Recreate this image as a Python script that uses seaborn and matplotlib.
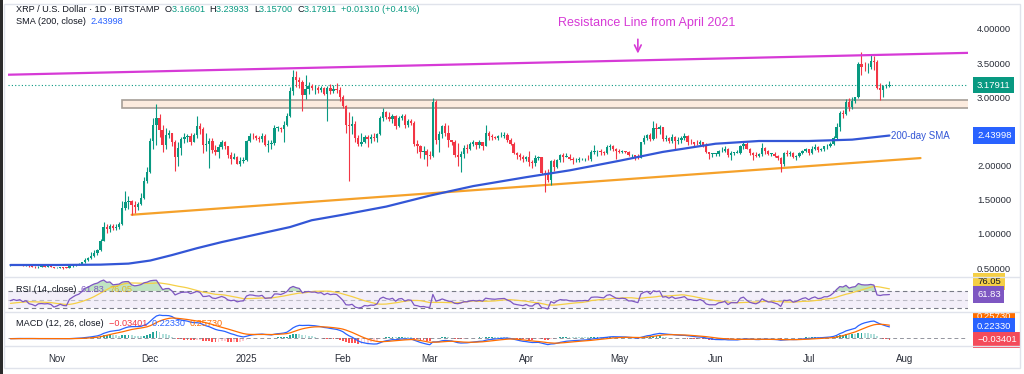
import matplotlib

matplotlib.use('Agg')

import matplotlib.pyplot as plt
import matplotlib.dates as mdates
from matplotlib.patches import Rectangle
from matplotlib.transforms import Bbox
import numpy as np
import pandas as pd
import seaborn as sns


# daily XRP / USD candles (Bitstamp), 2024-10-17 .. 2025-07-27
first_day = '2024-10-17'
first_open = 0.540

close = [
    # Oct 17-31
    0.546, 0.552, 0.547, 0.551, 0.540, 0.545, 0.527, 0.522, 0.512, 0.521, 0.522, 0.520, 0.521, 0.517, 0.500,
    # Nov
    0.504, 0.510, 0.503, 0.501, 0.528, 0.540, 0.552, 0.560, 0.582, 0.622, 0.640, 0.681, 0.727, 0.763, 0.901,
    1.100, 1.070, 1.120, 1.080, 1.105, 1.140, 1.380, 1.470, 1.480, 1.420, 1.400, 1.440, 1.520, 1.770, 1.910,
    # Dec
    2.360, 2.600, 2.700, 2.520, 2.300, 2.450, 2.470, 2.350, 2.120, 2.260, 2.390, 2.420, 2.430, 2.350, 2.450,
    2.580, 2.530, 2.300, 2.310, 2.360, 2.230, 2.200, 2.270, 2.340, 2.280, 2.150, 2.100, 2.130, 2.030, 2.070, 2.080,
    # Jan
    2.360, 2.440, 2.430, 2.400, 2.390, 2.430, 2.300, 2.320, 2.330, 2.550, 2.550, 2.530, 2.600, 2.720, 3.090,
    3.300, 3.250, 3.220, 3.030, 3.120, 3.160, 3.130, 3.140, 3.100, 3.130, 3.050, 3.140, 3.090, 3.120, 3.110, 3.010,
    # Feb
    2.870, 2.600, 2.580, 2.610, 2.400, 2.320, 2.340, 2.420, 2.390, 2.420, 2.410, 2.460, 2.700, 2.780,
    2.710, 2.680, 2.730, 2.580, 2.700, 2.720, 2.590, 2.650, 2.630, 2.320, 2.280, 2.200, 2.210, 2.150,
    # Mar
    2.140, 2.930, 2.370, 2.460, 2.580, 2.480, 2.370, 2.350, 2.160, 2.120, 2.170, 2.260, 2.250, 2.310, 2.340,
    2.300, 2.340, 2.290, 2.470, 2.440, 2.420, 2.410, 2.430, 2.440, 2.450, 2.380, 2.320, 2.190, 2.150, 2.120, 2.090,
    # Apr
    2.130, 2.050, 2.040, 2.110, 2.120, 1.890, 1.860, 1.790, 2.070, 1.980, 2.080, 2.150, 2.130, 2.130, 2.090,
    2.080, 2.080, 2.090, 2.090, 2.100, 2.090, 2.200, 2.210, 2.210, 2.200, 2.190, 2.270, 2.290, 2.250, 2.210,
    # May
    2.200, 2.210, 2.200, 2.150, 2.150, 2.130, 2.110, 2.340, 2.410, 2.450, 2.390, 2.550, 2.530, 2.560, 2.390,
    2.410, 2.360, 2.420, 2.360, 2.380, 2.400, 2.430, 2.350, 2.340, 2.320, 2.310, 2.340, 2.300, 2.200, 2.170, 2.170,
    # Jun
    2.170, 2.210, 2.220, 2.240, 2.150, 2.190, 2.190, 2.190, 2.290, 2.320, 2.250, 2.190, 2.160, 2.140, 2.170,
    2.260, 2.210, 2.170, 2.170, 2.140, 2.110, 2.030, 2.180, 2.170, 2.190, 2.120, 2.140, 2.180, 2.220, 2.240,
    # Jul 1-27
    2.190, 2.240, 2.270, 2.230, 2.240, 2.280, 2.280, 2.320, 2.400, 2.560, 2.770, 2.760, 2.930, 2.860,
    2.950, 3.000, 3.490, 3.450, 3.440, 3.450, 3.530, 3.510, 3.140, 3.110, 3.160, 3.16601, 3.17911,
]

high = [
    0.556, 0.560, 0.556, 0.560, 0.565, 0.550, 0.548, 0.535, 0.530, 0.527, 0.528, 0.530, 0.535, 0.525, 0.520,
    0.515, 0.516, 0.512, 0.512, 0.535, 0.555, 0.560, 0.570, 0.590, 0.640, 0.660, 0.730, 0.760, 0.780, 0.920,
    1.180, 1.150, 1.150, 1.150, 1.140, 1.170, 1.480, 1.630, 1.550, 1.500, 1.480, 1.470, 1.600, 1.840, 1.980,
    2.400, 2.700, 2.900, 2.760, 2.600, 2.550, 2.520, 2.480, 2.380, 2.340, 2.420, 2.470, 2.460, 2.470, 2.480,
    2.720, 2.630, 2.560, 2.470, 2.400, 2.400, 2.300, 2.320, 2.370, 2.360, 2.290, 2.200, 2.180, 2.140, 2.130, 2.130,
    2.370, 2.480, 2.470, 2.450, 2.430, 2.470, 2.460, 2.380, 2.370, 2.600, 2.580, 2.570, 2.650, 2.770, 3.150,
    3.400, 3.390, 3.300, 3.250, 3.330, 3.220, 3.200, 3.180, 3.170, 3.160, 3.150, 3.160, 3.200, 3.180, 3.210, 3.150,
    3.040, 2.890, 2.780, 2.720, 2.660, 2.450, 2.480, 2.450, 2.450, 2.460, 2.470, 2.480, 2.720, 2.840,
    2.800, 2.790, 2.760, 2.740, 2.720, 2.760, 2.760, 2.680, 2.680, 2.650, 2.370, 2.300, 2.280, 2.240,
    2.220, 2.990, 2.960, 2.500, 2.600, 2.620, 2.600, 2.380, 2.370, 2.330, 2.220, 2.300, 2.320, 2.350, 2.370,
    2.350, 2.380, 2.340, 2.590, 2.500, 2.460, 2.440, 2.450, 2.490, 2.490, 2.470, 2.400, 2.340, 2.200, 2.190, 2.150,
    2.140, 2.210, 2.080, 2.150, 2.140, 2.130, 1.940, 1.950, 2.080, 2.090, 2.100, 2.170, 2.180, 2.190, 2.170,
    2.120, 2.110, 2.120, 2.110, 2.110, 2.160, 2.230, 2.300, 2.230, 2.250, 2.210, 2.300, 2.310, 2.300, 2.260,
    2.240, 2.230, 2.220, 2.210, 2.170, 2.160, 2.170, 2.350, 2.450, 2.460, 2.480, 2.650, 2.620, 2.600, 2.570,
    2.450, 2.420, 2.460, 2.440, 2.420, 2.440, 2.480, 2.450, 2.390, 2.350, 2.370, 2.370, 2.340, 2.330, 2.200, 2.190,
    2.190, 2.230, 2.270, 2.280, 2.260, 2.210, 2.200, 2.230, 2.300, 2.340, 2.340, 2.260, 2.200, 2.200, 2.190,
    2.330, 2.270, 2.230, 2.190, 2.200, 2.150, 2.120, 2.200, 2.230, 2.210, 2.200, 2.160, 2.200, 2.230, 2.260,
    2.250, 2.280, 2.320, 2.280, 2.260, 2.290, 2.320, 2.350, 2.440, 2.620, 2.800, 2.810, 2.970, 2.990,
    3.000, 3.010, 3.520, 3.660, 3.520, 3.500, 3.640, 3.600, 3.550, 3.210, 3.180, 3.190, 3.23933,
]

low = [
    0.535, 0.540, 0.543, 0.540, 0.535, 0.530, 0.515, 0.515, 0.495, 0.508, 0.515, 0.510, 0.515, 0.510, 0.495,
    0.494, 0.500, 0.490, 0.495, 0.498, 0.520, 0.535, 0.548, 0.555, 0.578, 0.600, 0.630, 0.665, 0.690, 0.750,
    0.890, 1.020, 1.030, 1.050, 1.060, 1.070, 1.130, 1.350, 1.360, 1.280, 1.300, 1.350, 1.430, 1.510, 1.750,
    1.890, 2.240, 2.300, 2.420, 2.200, 2.250, 2.400, 2.280, 1.920, 2.000, 2.150, 2.330, 2.350, 2.300, 2.340,
    2.410, 2.460, 2.180, 2.220, 1.960, 2.180, 2.150, 2.110, 2.240, 2.240, 2.110, 2.030, 2.090, 2.020, 2.000, 2.040,
    2.070, 2.340, 2.390, 2.370, 2.350, 2.340, 2.280, 2.200, 2.240, 2.300, 2.500, 2.490, 2.350, 2.580, 2.710,
    3.040, 3.150, 3.140, 2.800, 2.980, 3.050, 3.100, 3.050, 3.060, 3.080, 3.040, 2.650, 3.050, 3.060, 3.070, 2.950,
    2.840, 2.480, 1.770, 2.460, 2.340, 2.280, 2.290, 2.330, 2.270, 2.330, 2.360, 2.340, 2.450, 2.660,
    2.680, 2.650, 2.620, 2.530, 2.560, 2.670, 2.550, 2.570, 2.600, 2.280, 2.180, 2.110, 2.100, 1.990,
    2.100, 2.120, 2.310, 2.200, 2.400, 2.430, 2.270, 2.300, 2.120, 2.000, 1.900, 2.110, 2.180, 2.230, 2.290,
    2.250, 2.260, 2.230, 2.280, 2.380, 2.380, 2.390, 2.380, 2.420, 2.400, 2.350, 2.300, 2.170, 2.090, 2.080, 2.050,
    2.070, 1.990, 1.960, 1.990, 2.080, 1.870, 1.610, 1.760, 1.720, 1.920, 1.970, 2.050, 2.050, 2.120, 2.080,
    2.030, 2.050, 2.050, 2.080, 2.060, 2.080, 2.070, 2.170, 2.140, 2.160, 2.160, 2.170, 2.230, 2.220, 2.100,
    2.180, 2.180, 2.180, 2.140, 2.110, 2.080, 2.100, 2.110, 2.310, 2.370, 2.360, 2.380, 2.400, 2.460, 2.360,
    2.360, 2.330, 2.330, 2.240, 2.320, 2.330, 2.380, 2.300, 2.320, 2.280, 2.300, 2.280, 2.270, 2.180, 2.100, 2.130,
    2.140, 2.140, 2.200, 2.200, 2.130, 2.080, 2.160, 2.180, 2.170, 2.250, 2.240, 2.160, 2.080, 2.120, 2.130,
    2.140, 2.170, 2.150, 2.140, 2.120, 2.080, 1.910, 2.000, 2.140, 2.140, 2.110, 2.080, 2.130, 2.170, 2.200,
    2.160, 2.170, 2.230, 2.200, 2.210, 2.220, 2.240, 2.270, 2.300, 2.390, 2.500, 2.700, 2.740, 2.800,
    2.830, 2.920, 2.990, 3.330, 3.390, 3.360, 3.420, 3.400, 3.120, 2.960, 3.010, 3.130, 3.15700,
]

# closes before the first visible candle, only used to warm up RSI / MACD
warmup_close = [
    0.585, 0.588, 0.590, 0.587, 0.590, 0.584, 0.590, 0.596, 0.587, 0.594, 0.614, 0.630, 0.640, 0.610, 0.590,
    0.540, 0.523, 0.535, 0.536, 0.538, 0.532, 0.534, 0.533, 0.525, 0.535, 0.541, 0.536, 0.551, 0.538, 0.540,
]

# 200-day SMA
sma_dates = [
    '2024-10-17', '2024-11-01', '2024-11-15', '2024-11-24', '2024-12-01', '2024-12-08', '2024-12-16',
    '2024-12-24', '2025-01-01', '2025-01-08', '2025-01-15', '2025-01-22', '2025-02-01', '2025-02-15',
    '2025-03-01', '2025-03-15', '2025-04-01', '2025-04-15', '2025-05-01', '2025-05-15', '2025-06-01',
    '2025-06-15', '2025-07-01', '2025-07-15', '2025-07-27',
]
sma_values = [
    0.545, 0.545, 0.550, 0.565, 0.610, 0.690, 0.790,
    0.880, 0.960, 1.030, 1.100, 1.200, 1.280, 1.400,
    1.560, 1.700, 1.830, 1.930, 2.070, 2.200, 2.320,
    2.360, 2.360, 2.380, 2.440,
]

resistance_pts = [('2024-10-16', 3.33), ('2025-08-21', 3.65)]
support_pts = [('2024-11-25', 1.28), ('2025-08-06', 2.11)]
zone_start = '2024-11-22'
zone_low = 2.85
zone_high = 2.96

price_ticks = [0.5, 1.0, 1.5, 2.0, 2.5, 3.0, 3.5, 4.0]
# 2.50000 sits under the SMA value tag in the original
price_tick_labels = ['0.50000', '1.00000', '1.50000', '2.00000', '', '3.00000', '3.50000', '4.00000']

month_ticks = [
    '2024-11-01', '2024-12-01', '2025-01-01', '2025-02-01', '2025-03-01',
    '2025-04-01', '2025-05-01', '2025-06-01', '2025-07-01', '2025-08-01',
]
month_labels = ['Nov', 'Dec', '2025', 'Feb', 'Mar', 'Apr', 'May', 'Jun', 'Jul', 'Aug']

header_parts = [
    ('XRP / U.S. Dollar · 1D · BITSTAMP  ', 'dark'),
    ('O', 'dark'), ('3.16601  ', 'up'),
    ('H', 'dark'), ('3.23933  ', 'up'),
    ('L', 'dark'), ('3.15700  ', 'up'),
    ('C', 'dark'), ('3.17911  ', 'up'),
    ('+0.01310 (+0.41%)', 'up'),
]

UP = '#089981'
DOWN = '#f23645'
DARK = '#131722'
MAGENTA = '#d63ad6'
ORANGE = '#f5a12a'
SMA_BLUE = '#3356d6'
TAG_BLUE = '#2962ff'
RSI_PURPLE = '#7e57c2'
RSI_YELLOW = '#f5cf45'
SEP = '#e0e3eb'

sns.set_theme(style='white')
plt.rcParams['font.family'] = ['Liberation Sans', 'DejaVu Sans']

W, H = 1024, 374

fig = plt.figure(
    figsize=(W / 100, H / 100),
    dpi=100,
)


def pane(top, bottom):

    ax = fig.add_axes(
        [8 / W, 1 - bottom / H, 960 / W, (bottom - top) / H],
    )

    for s in ax.spines.values():
        s.set_visible(False)

    ax.set_facecolor('white')

    return ax


ax = pane(5, 277)
ax_rsi = pane(277, 312)
ax_macd = pane(312, 346)

dates = pd.date_range(first_day, periods=len(close), freq='D')
x = mdates.date2num(dates)

c = np.array(close)
h = np.array(high)
l = np.array(low)
o = np.concatenate([[first_open], c[:-1]])

# indicators
all_close = pd.Series(warmup_close + close)
delta = all_close.diff()
gain = delta.clip(lower=0).ewm(alpha=1 / 14, adjust=False).mean()
loss = (-delta.clip(upper=0)).ewm(alpha=1 / 14, adjust=False).mean()
rsi_all = 100 - 100 / (1 + gain / loss)
rsi_ma_all = rsi_all.rolling(14).mean()
macd_all = (
    all_close.ewm(span=12, adjust=False).mean()
    - all_close.ewm(span=26, adjust=False).mean()
)
signal_all = macd_all.ewm(span=9, adjust=False).mean()

n = len(close)
rsi = rsi_all.iloc[-n:].to_numpy()
rsi_ma = rsi_ma_all.iloc[-n:].to_numpy()
macd = macd_all.iloc[-n:].to_numpy()
signal = signal_all.iloc[-n:].to_numpy()
hist_full = (macd_all - signal_all).to_numpy()
hist = hist_full[-n:]
hist_prev = hist_full[-n - 1:-1]

x_left = mdates.date2num(pd.Timestamp('2024-10-16 05:00'))
x_right = mdates.date2num(pd.Timestamp('2025-08-21 07:00'))

# ---- price pane ----
ax.add_patch(
    Rectangle(
        (mdates.date2num(pd.Timestamp(zone_start)), zone_low),
        x_right - mdates.date2num(pd.Timestamp(zone_start)) + 10,
        zone_high - zone_low,
        facecolor='#fcebde',
        edgecolor='#a69e97',
        linewidth=1.2,
        zorder=1,
    )
)

ax.axhline(
    c[-1],
    color=UP,
    linestyle=(0, (1, 2)),
    linewidth=0.8,
    zorder=1,
)

colors = np.where(c >= o, UP, DOWN)

ax.vlines(
    x,
    l,
    h,
    colors=colors,
    linewidth=0.8,
    zorder=3,
)

ax.bar(
    x,
    np.maximum(np.abs(c - o), 0.008),
    bottom=np.minimum(o, c),
    width=0.75,
    color=colors,
    linewidth=0,
    zorder=4,
)

sma_x = mdates.date2num(pd.to_datetime(sma_dates))

sns.lineplot(
    x=sma_x,
    y=sma_values,
    ax=ax,
    color=SMA_BLUE,
    linewidth=1.6,
    zorder=5,
)

ax.text(
    sma_x[-1] + 0.4,
    sma_values[-1],
    '200-day SMA',
    color=SMA_BLUE,
    fontsize=7,
    va='center',
    ha='left',
)

(rx1, ry1), (rx2, ry2) = resistance_pts
ax.axline(
    (mdates.date2num(pd.Timestamp(rx1)), ry1),
    (mdates.date2num(pd.Timestamp(rx2)), ry2),
    color=MAGENTA,
    linewidth=1.6,
    zorder=6,
)

(sx1, sy1), (sx2, sy2) = support_pts
ax.plot(
    mdates.date2num(pd.to_datetime([sx1, sx2])),
    [sy1, sy2],
    color=ORANGE,
    linewidth=1.6,
    zorder=2,
)

arrow_x = mdates.date2num(pd.Timestamp('2025-05-07'))

ax.annotate(
    '',
    xy=(arrow_x, 3.60),
    xytext=(arrow_x, 3.89),
    arrowprops=dict(
        arrowstyle='->',
        color=MAGENTA,
        linewidth=1.2,
        mutation_scale=12,
    ),
)

ax.text(
    mdates.date2num(pd.Timestamp('2025-05-10')),
    4.085,
    'Resistance Line from April 2021',
    color=MAGENTA,
    fontsize=9,
    ha='center',
    va='center',
)

ax.set_xlim(x_left, x_right)
ax.set_ylim(0.369, 4.351)
ax.yaxis.tick_right()
ax.set_yticks(price_ticks)
ax.set_yticklabels(price_tick_labels)
ax.tick_params(axis='y', length=0, pad=6.5, labelsize=6.8, labelcolor='#2a2e39')
ax.tick_params(axis='x', length=0, labelbottom=False)
ax.set_xlabel('')
ax.set_ylabel('')

# ---- RSI pane ----
ax_rsi.axhspan(30, 70, color=RSI_PURPLE, alpha=0.09, linewidth=0)

for lvl, a in [(70, 1.0), (50, 0.45), (30, 1.0)]:
    ax_rsi.axhline(
        lvl,
        color='#787b86',
        linestyle=(0, (4, 3)),
        linewidth=0.8,
        alpha=a,
    )

ax_rsi.fill_between(
    x,
    rsi,
    70,
    where=rsi > 70,
    interpolate=True,
    color='#4caf50',
    alpha=0.35,
    linewidth=0,
)

sns.lineplot(x=x, y=rsi_ma, ax=ax_rsi, color=RSI_YELLOW, linewidth=0.9)
sns.lineplot(x=x, y=rsi, ax=ax_rsi, color=RSI_PURPLE, linewidth=0.9)

ax_rsi.set_xlim(x_left, x_right)
ax_rsi.set_ylim(21.4, 102.4)
ax_rsi.set_yticks([])
ax_rsi.tick_params(axis='x', length=0, labelbottom=False)
ax_rsi.set_xlabel('')
ax_rsi.set_ylabel('')

# ---- MACD pane ----
hist_colors = np.where(
    hist >= 0,
    np.where(hist >= hist_prev, '#26a69a', '#b2dfdb'),
    np.where(hist < hist_prev, '#ff5252', '#ffcdd2'),
)

ax_macd.axhline(0, color='#787b86', linestyle=(0, (4, 3)), linewidth=0.7, alpha=0.8)

ax_macd.bar(
    x,
    hist,
    width=0.6,
    color=hist_colors,
    linewidth=0,
)

sns.lineplot(x=x, y=macd, ax=ax_macd, color=TAG_BLUE, linewidth=0.9)
sns.lineplot(x=x, y=signal, ax=ax_macd, color='#ff6d00', linewidth=0.9)

peak = macd.max()
ax_macd.set_xlim(x_left, x_right)
ax_macd.set_ylim(-0.345 * peak, 1.134 * peak)
ax_macd.set_yticks([])
ax_macd.set_xticks(mdates.date2num(pd.to_datetime(month_ticks)))
ax_macd.set_xticklabels(month_labels)
ax_macd.tick_params(axis='x', length=0, pad=5.5, labelsize=7, labelcolor='#2a2e39')
ax_macd.set_xlabel('')
ax_macd.set_ylabel('')


# ---- right-hand value tags ----
def tag(axis, y, s, fc, tc='white', dy=0, clip_top=None):

    t = axis.annotate(
        s,
        xy=(1, y),
        xycoords=('axes fraction', 'data'),
        xytext=(6.5, dy),
        textcoords='offset points',
        ha='left',
        va='center',
        fontsize=6.8,
        color=tc,
        bbox=dict(boxstyle='square,pad=0.4', facecolor=fc, edgecolor='none'),
        annotation_clip=False,
        zorder=10,
    )

    if clip_top is not None:
        t.set_clip_on(True)
        t.set_clip_box(Bbox.from_extents(900, 0, W, H - clip_top))

    return t


tag(ax, c[-1], '3.17911', UP)
tag(ax, sma_values[-1], '2.43998', TAG_BLUE)
tag(ax_rsi, 76.05, '76.05', RSI_YELLOW, tc=DARK, dy=5)
tag(ax_rsi, 61.83, '61.83', RSI_PURPLE)
tag(ax_macd, 0.25730, '0.25730', '#ff6d00', dy=6, clip_top=312)
tag(ax_macd, 0.22330, '0.22330', TAG_BLUE)
tag(ax_macd, -0.03401, '\u22120.03401', '#f44b5a')


# ---- legend rows ----
renderer = fig.canvas.get_renderer()
palette = {'dark': DARK, 'up': UP}


def text_row(x_px, y_px, parts, size=6.6):

    for s, col in parts:

        t = fig.text(
            x_px / W,
            1 - y_px / H,
            s,
            color=col,
            fontsize=size,
            va='center',
            ha='left',
        )

        x_px += t.get_window_extent(renderer).width


text_row(16, 10, [(s, palette[k]) for s, k in header_parts])
text_row(16, 21, [('SMA (200, close)  ', DARK), ('2.43998', TAG_BLUE)])
text_row(16, 289, [('RSI (14, close)  ', DARK), ('61.83  ', RSI_PURPLE), ('76.05', '#e0b92a')])
text_row(
    16,
    324,
    [
        ('MACD (12, 26, close)  ', DARK),
        ('\u22120.03401  ', '#f23645'),
        ('0.22330  ', TAG_BLUE),
        ('0.25730', '#ff6d00'),
    ],
)

# ---- pane separators and frame ----
for y_px in [277, 312, 346]:
    fig.add_artist(
        plt.Line2D(
            [4 / W, 1020 / W],
            [1 - y_px / H, 1 - y_px / H],
            color=SEP,
            linewidth=1,
        )
    )

fig.add_artist(
    Rectangle(
        (4 / W, 1 - 368 / H),
        1016 / W,
        364 / H,
        transform=fig.transFigure,
        fill=False,
        edgecolor=SEP,
        linewidth=1,
    )
)

fig.add_artist(
    Rectangle(
        (0, 0),
        2.5 / W,
        1,
        transform=fig.transFigure,
        facecolor='#2b2b2b',
        edgecolor='none',
    )
)

fig.savefig('out.png', dpi=100)
plt.close(fig)
